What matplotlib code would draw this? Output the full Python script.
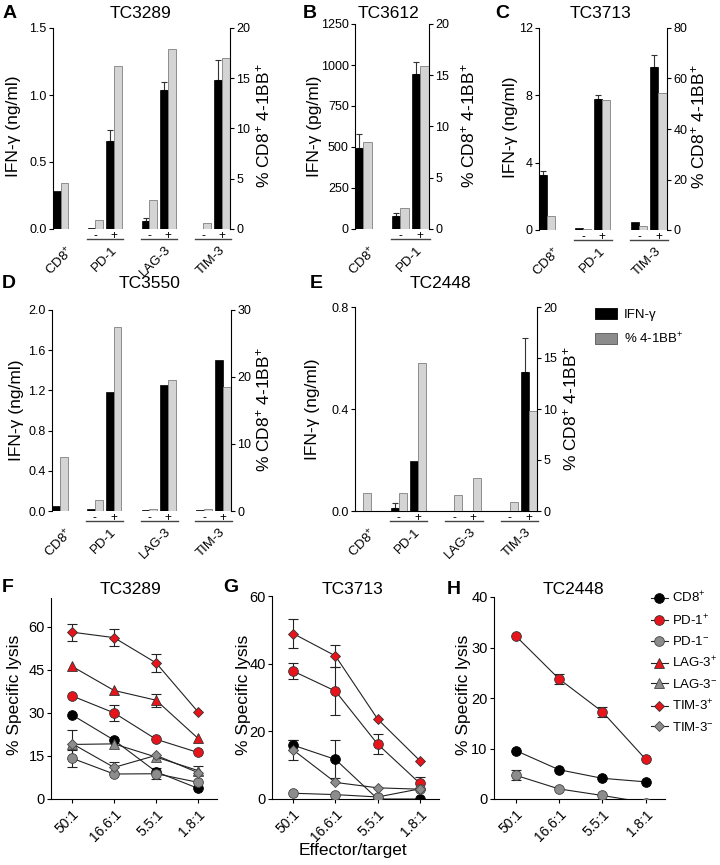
import numpy as np
import matplotlib
matplotlib.use('Agg')
import matplotlib.pyplot as plt
import matplotlib.transforms as mtrans
from matplotlib.patches import Patch
from matplotlib.lines import Line2D
from matplotlib.ticker import FormatStrFormatter

plt.rcParams['font.family'] = ['Liberation Sans', 'DejaVu Sans']
plt.rcParams['mathtext.fontset'] = 'custom'
plt.rcParams['mathtext.rm'] = 'Liberation Sans'
plt.rcParams['mathtext.it'] = 'Liberation Sans:italic'
plt.rcParams['mathtext.default'] = 'regular'
plt.rcParams['axes.linewidth'] = 0.8

# ---------------- data: bar panels (order: CD8+, grp1 -, grp1 +, grp2 -, grp2 + ...)
A_groups = ['PD-1', 'LAG-3', 'TIM-3']
A_ifn = [0.28, 0.007, 0.66, 0.06, 1.04, 0.0, 1.11]
A_err = [0.0, 0.0, 0.08, 0.025, 0.06, 0.0, 0.15]
A_bb = [4.6, 0.9, 16.2, 2.9, 17.9, 0.6, 17.05]

B_groups = ['PD-1']
B_ifn = [491, 77, 946]
B_err = [86, 21, 72]
B_bb = [8.45, 2.0, 15.9]

C_groups = ['PD-1', 'TIM-3']
C_ifn = [3.28, 0.1, 7.8, 0.5, 9.68]
C_err = [0.22, 0.0, 0.24, 0.0, 0.72]
C_bb = [5.5, 0.5, 51.4, 1.45, 54.4]

D_groups = ['PD-1', 'LAG-3', 'TIM-3']
D_ifn = [0.05, 0.017, 1.18, 0.01, 1.257, 0.01, 1.50]
D_err = [0, 0, 0, 0, 0, 0, 0]
D_bb = [8.1, 1.64, 27.4, 0.25, 19.55, 0.25, 18.45]

E_groups = ['PD-1', 'LAG-3', 'TIM-3']
E_ifn = [0.0, 0.013, 0.196, 0.0, 0.0, 0.0, 0.545]
E_err = [0.0, 0.02, 0.0, 0.0, 0.0, 0.0, 0.133]
E_bb = [1.76, 1.8, 14.5, 1.54, 3.27, 0.92, 9.84]

# ---------------- data: cytotoxicity panels
ratios = ['50:1', '16.6:1', '5.5:1', '1.8:1']
series_names = ['CD8$^{+}$', 'PD-1$^{+}$', 'PD-1$^{-}$', 'LAG-3$^{+}$', 'LAG-3$^{-}$', 'TIM-3$^{+}$', 'TIM-3$^{-}$']

F_vals = {
    'CD8$^{+}$': [29.3, 20.5, 9.5, 3.7],
    'PD-1$^{+}$': [35.9, 30.0, 20.8, 16.2],
    'PD-1$^{-}$': [14.2, 8.7, 8.8, 5.8],
    'LAG-3$^{+}$': [46.2, 37.8, 34.4, 21.1],
    'LAG-3$^{-}$': [19.0, 19.2, 14.6, 9.9],
    'TIM-3$^{+}$': [58.1, 56.2, 47.4, 30.3],
    'TIM-3$^{-}$': [19.3, 11.0, 15.2, 9.2],
}
F_errs = {
    'CD8$^{+}$': [0, 0, 0, 0],
    'PD-1$^{+}$': [0, 2.9, 0, 0],
    'PD-1$^{-}$': [3.0, 0, 2.0, 0],
    'LAG-3$^{+}$': [0, 0, 2.2, 0],
    'LAG-3$^{-}$': [5.0, 0, 0, 1.6],
    'TIM-3$^{+}$': [3.0, 2.9, 3.0, 0],
    'TIM-3$^{-}$': [0, 2.0, 0, 0],
}
G_vals = {
    'CD8$^{+}$': [15.9, 11.7, 0.0, 0.0],
    'PD-1$^{+}$': [37.8, 31.9, 16.2, 4.6],
    'PD-1$^{-}$': [1.7, 1.3, 0.6, 3.0],
    'TIM-3$^{+}$': [48.9, 42.3, 23.6, 11.3],
    'TIM-3$^{-}$': [14.5, 4.9, 3.3, 2.9],
}
G_errs = {
    'CD8$^{+}$': [1.5, 5.6, 0, 0],
    'PD-1$^{+}$': [2.4, 7.0, 3.0, 2.0],
    'PD-1$^{-}$': [0, 0, 0, 0],
    'TIM-3$^{+}$': [4.2, 3.3, 0, 0],
    'TIM-3$^{-}$': [3.0, 0, 0, 0],
}
H_vals = {
    'CD8$^{+}$': [9.6, 5.8, 4.1, 3.4],
    'PD-1$^{+}$': [32.3, 23.8, 17.3, 7.9],
    'PD-1$^{-}$': [4.7, 2.0, 0.7, -0.7],
}
H_errs = {
    'CD8$^{+}$': [0, 0, 0, 0],
    'PD-1$^{+}$': [0, 1.0, 1.0, 0],
    'PD-1$^{-}$': [1.0, 0, 0, 0],
}

# ---------------- styles
RED = '#e8141b'
GRAY = '#8c8c8c'
styles = {
    'CD8$^{+}$': dict(marker='o', ms=7.0, mfc='black', mec='black'),
    'PD-1$^{+}$': dict(marker='o', ms=7.0, mfc=RED, mec='#333333'),
    'PD-1$^{-}$': dict(marker='o', ms=7.0, mfc=GRAY, mec='#444444'),
    'LAG-3$^{+}$': dict(marker='^', ms=7.5, mfc=RED, mec='#333333'),
    'LAG-3$^{-}$': dict(marker='^', ms=7.5, mfc=GRAY, mec='#444444'),
    'TIM-3$^{+}$': dict(marker='D', ms=5.0, mfc=RED, mec='#333333'),
    'TIM-3$^{-}$': dict(marker='D', ms=5.0, mfc=GRAY, mec='#444444'),
}

W, H = 720, 865
fig = plt.figure(figsize=(7.2, 8.65), dpi=100)


def rect(x0, y0, x1, y1):
    return [x0 / W, 1 - y1 / H, (x1 - x0) / W, (y1 - y0) / H]


def ftext(x, y, s, **kw):
    fig.text(x / W, 1 - y / H, s, **kw)


def bar_positions(n_groups):
    pos = [0.5]
    for k in range(n_groups):
        base = 2.75 + 3.5 * k
        pos += [base, base + 1.2]
    return np.array(pos)


def bar_panel(box, groups, ifn, err, bb, lylim, lticks, lfmt, rylim, rticks,
              baseline=False):
    ax = fig.add_axes(rect(*box))
    ax2 = ax.twinx()
    pos = bar_positions(len(groups))
    w = 0.5
    ifn = np.array(ifn, float)
    err = np.array(err, float)
    ax.bar(pos - w / 2, ifn, w, color='black', edgecolor='black', linewidth=0.5, zorder=2)
    m = err > 0
    if m.any():
        ax.errorbar((pos - w / 2)[m], ifn[m], yerr=[np.zeros(m.sum()), err[m]],
                    fmt='none', ecolor='#333333', elinewidth=0.8, capsize=2.5,
                    capthick=0.8, zorder=1)
    ax2.bar(pos + w / 2, bb, w, color='#d4d4d4', edgecolor='#7f7f7f', linewidth=0.6)
    ax.set_xlim(0, pos[-1] + 0.53)
    ax.set_ylim(*lylim)
    ax2.set_ylim(*rylim)
    ax.set_yticks(lticks)
    ax2.set_yticks(rticks)
    ax.yaxis.set_major_formatter(FormatStrFormatter(lfmt))
    ax.set_xticks([])
    for a in (ax, ax2):
        a.spines['top'].set_visible(False)
        a.spines['bottom'].set_visible(baseline and a is ax)
    ax.spines['right'].set_visible(False)
    ax2.spines['left'].set_visible(False)
    ax.tick_params(axis='y', direction='out', length=3, width=0.8, labelsize=9, pad=1.5)
    ax2.tick_params(axis='y', direction='out', length=3, width=0.8, labelsize=9, pad=1.5)
    # group annotations
    tr_line = mtrans.offset_copy(ax.get_xaxis_transform(), fig=fig, x=0, y=-10, units='dots')
    ax.annotate('CD8$^{+}$', xy=(pos[0], 0), xycoords=('data', 'axes fraction'),
                xytext=(6, -15), textcoords='offset pixels', rotation=45,
                ha='right', va='top', rotation_mode='anchor', fontsize=9.5)
    for k, g in enumerate(groups):
        xm, xp = pos[1 + 2 * k], pos[2 + 2 * k]
        ax.plot([xm - 0.55, xp + 0.6], [0, 0], color='#444444', lw=1.0,
                transform=tr_line, clip_on=False)
        for xx, s in ((xm, '-'), (xp, '+')):
            ax.annotate(s, xy=(xx, 0), xycoords=('data', 'axes fraction'),
                        xytext=(0, -1), textcoords='offset pixels',
                        ha='center', va='top', fontsize=8.5)
        ax.annotate(g, xy=((xm + xp) / 2, 0), xycoords=('data', 'axes fraction'),
                    xytext=(6, -15), textcoords='offset pixels', rotation=45,
                    ha='right', va='top', rotation_mode='anchor', fontsize=9.5)
    return ax, ax2


def line_panel(box, vals, errs, ylim, yticks):
    ax = fig.add_axes(rect(*box))
    x = np.arange(len(ratios))
    for name in series_names:
        if name not in vals:
            continue
        v = np.array(vals[name], float)
        e = np.array(errs[name], float)
        m = e > 0
        if m.any():
            ax.errorbar(x[m], v[m], yerr=e[m], fmt='none', ecolor='#222222',
                        elinewidth=0.8, capsize=3.5, capthick=0.8, zorder=2)
        st = styles[name]
        ax.plot(x, v, color='#222222', lw=0.8, marker=st['marker'], ms=st['ms'],
                mfc=st['mfc'], mec=st['mec'], mew=0.6, zorder=3)
    ax.set_xlim(-0.5, 3.45)
    ax.set_ylim(*ylim)
    ax.set_yticks(yticks)
    ax.set_xticks(x)
    ax.set_xticklabels(ratios, rotation=45, ha='right', rotation_mode='anchor', fontsize=10)
    ax.spines['top'].set_visible(False)
    ax.spines['right'].set_visible(False)
    ax.tick_params(axis='y', direction='out', length=3, width=0.8, labelsize=10.5, pad=1.5)
    ax.tick_params(axis='x', direction='out', length=3, width=0.8, pad=3)
    return ax


LBL = 12.5
ifn_ng = 'IFN-γ (ng/ml)'
ifn_pg = 'IFN-γ (pg/ml)'
bb_lab = '% CD8$^{+}$ 4-1BB$^{+}$'

# A
bar_panel((53, 28, 230, 229), A_groups, A_ifn, A_err, A_bb, (0, 1.5), [0, 0.5, 1.0, 1.5], '%.1f',
          (0, 20), [0, 5, 10, 15, 20])
ftext(14, 126, ifn_ng, rotation=90, ha='center', va='center', fontsize=LBL)
ftext(263, 126, bb_lab, rotation=90, ha='center', va='center', fontsize=LBL)
# B
bar_panel((355, 24, 429, 229), B_groups, B_ifn, B_err, B_bb, (0, 1250), [0, 250, 500, 750, 1000, 1250], '%d',
          (0, 20), [0, 5, 10, 15, 20])
ftext(315, 126, ifn_pg, rotation=90, ha='center', va='center', fontsize=LBL)
ftext(468, 126, bb_lab, rotation=90, ha='center', va='center', fontsize=LBL)
# C
bar_panel((539, 28, 667, 230), C_groups, C_ifn, C_err, C_bb, (0, 12), [0, 4, 8, 12], '%d',
          (0, 80), [0, 20, 40, 60, 80])
ftext(510, 127, ifn_ng, rotation=90, ha='center', va='center', fontsize=LBL)
ftext(698, 127, bb_lab, rotation=90, ha='center', va='center', fontsize=LBL)
# D
bar_panel((52, 310, 231, 511), D_groups, D_ifn, D_err, D_bb, (0, 2.0), [0, 0.4, 0.8, 1.2, 1.6, 2.0], '%.1f',
          (0, 30), [0, 10, 20, 30])
ftext(17, 410, ifn_ng, rotation=90, ha='center', va='center', fontsize=LBL)
ftext(263, 410, bb_lab, rotation=90, ha='center', va='center', fontsize=LBL)
# E
bar_panel((355, 307, 537, 511), E_groups, E_ifn, E_err, E_bb, (0, 0.8), [0, 0.4, 0.8], '%.1f',
          (0, 20), [0, 5, 10, 15, 20], baseline=True)
ftext(312, 409, ifn_ng, rotation=90, ha='center', va='center', fontsize=LBL)
ftext(570, 409, bb_lab, rotation=90, ha='center', va='center', fontsize=LBL)

# legend for bars
fig.legend(handles=[Patch(facecolor='black', edgecolor='black', lw=0.6),
                    Patch(facecolor='#8c8c8c', edgecolor='#555555', lw=0.6)],
           labels=['IFN-γ', '% 4-1BB$^{+}$'], loc='upper left',
           bbox_to_anchor=(592 / W, 1 - 305 / H), frameon=False, fontsize=9.5,
           handlelength=1.7, handleheight=0.9, labelspacing=0.8, handletextpad=0.5,
           borderaxespad=0, borderpad=0.2)

# F, G, H
line_panel((51, 598, 217, 799), F_vals, F_errs, (0, 70), [0, 15, 30, 45, 60])
line_panel((272, 596, 439, 799), G_vals, G_errs, (0, 60), [0, 20, 40, 60])
line_panel((494, 597, 665, 799), H_vals, H_errs, (0, 40), [0, 10, 20, 30, 40])
for xx in (15, 243, 463):
    ftext(xx, 695, '% Specific lysis', rotation=90, ha='center', va='center', fontsize=12.5)
ftext(353, 850, 'Effector/target', ha='center', va='center', fontsize=12.5)

handles = []
for name in series_names:
    st = styles[name]
    handles.append(Line2D([0], [0], color='#222222', lw=0.8, marker=st['marker'], ms=st['ms'],
                          mfc=st['mfc'], mec=st['mec'], mew=0.6))
fig.legend(handles=handles, labels=series_names, loc='upper left',
           bbox_to_anchor=(648 / W, 1 - 588 / H), frameon=False, fontsize=9.5,
           handlelength=1.3, numpoints=1, labelspacing=0.55, handletextpad=0.3,
           borderaxespad=0, borderpad=0.2)

# titles & letters
titles = [(140, 13, 'TC3289'), (388, 13, 'TC3612'), (600, 13, 'TC3713'),
          (150, 283, 'TC3550'), (440, 283, 'TC2448'),
          (130, 589, 'TC3289'), (352, 589, 'TC3713'), (573, 589, 'TC2448')]
for x, y, s in titles:
    ftext(x, y, s, ha='center', va='center', fontsize=12.5)
letters = [(3, 13, 'A'), (303, 13, 'B'), (495, 13, 'C'), (2, 283, 'D'), (310, 283, 'E'),
           (2, 587, 'F'), (223, 587, 'G'), (447, 589, 'H')]
for x, y, s in letters:
    ftext(x, y, s, ha='left', va='center', fontsize=14, fontweight='bold')

fig.savefig('out.png', dpi=100)
